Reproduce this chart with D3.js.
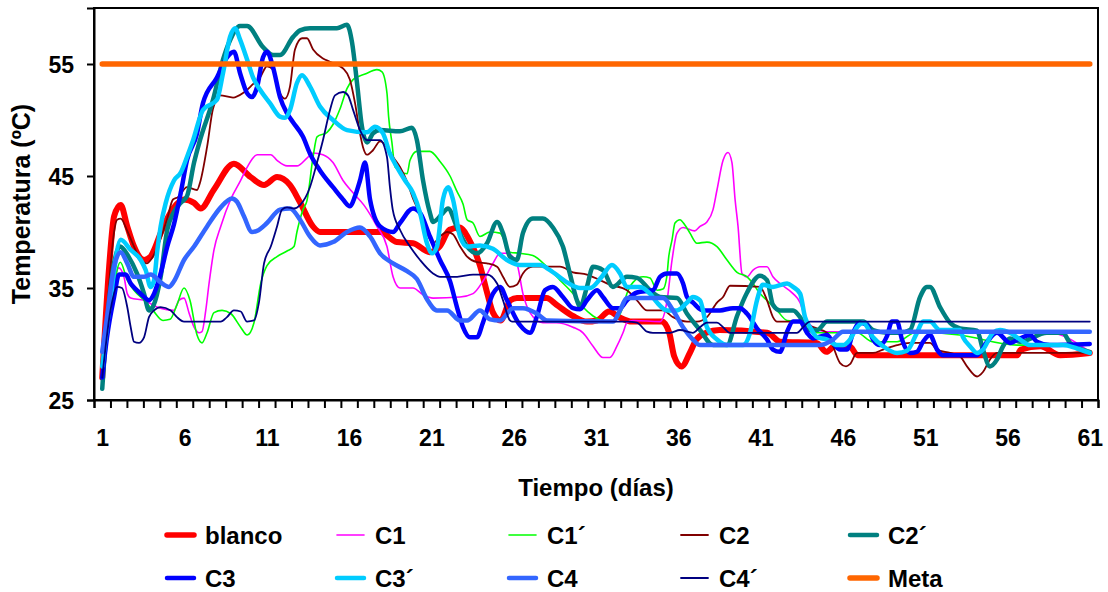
<!DOCTYPE html>
<html>
<head>
<meta charset="utf-8">
<script src="https://cdn.jsdelivr.net/npm/d3@7"></script>
<style>
  html, body { margin: 0; padding: 0; background: #fff; }
  svg { display: block; }
  text { font-family: "Liberation Sans", Arial, sans-serif; font-weight: bold; fill: #000; }
</style>
</head>
<body>
<svg id="chart" width="1108" height="592"></svg>
<script>
// ---------------- DATA (day, temperature ºC) ----------------
const seriesNames = ["blanco", "C1", "C1´", "C2", "C2´", "C3", "C3´", "C4", "C4´", "Meta"];
const yTickValues = [25, 35, 45, 55];
const xTickLabels = [1, 6, 11, 16, 21, 26, 31, 36, 41, 46, 51, 56, 61];
const dayCount = 61;

const blanco = [[1,27],[1.42,36.9],[1.72,41.4],[2.12,42.4],[2.52,40.5],[2.93,38.7],[3.54,37.5],[3.94,37.8],[4.15,38.4],[4.55,39.9],[5.36,42.2],[5.97,42.9],[6.58,42.6],[6.98,42.1],[7.79,43.8],[9.0,46.1],[10.02,44.9],[10.83,44.2],[11.62,44.9],[12.4,44.2],[13.0,42.7],[13.8,40.5],[14.23,40],[17.9,40],[18.9,39.1],[19.88,39],[20.9,38.2],[21.5,38.7],[22.1,40.2],[22.7,40.4],[23.3,39.3],[23.95,37],[24.4,34.5],[24.74,32.8],[25.2,32.1],[25.8,33.9],[26.2,34.1],[28.0,34.1],[28.6,33.5],[29.6,32.5],[30.45,32],[31.06,32.1],[31.8,32.9],[32.4,32.4],[33.2,32],[35.0,32],[35.45,31],[35.75,28.9],[36.2,28],[36.7,29.2],[37.1,30.4],[37.7,31],[38.5,31.25],[41.4,31],[42.2,30.2],[44.4,30.1],[45.0,29.3],[45.5,29.8],[46.4,29.8],[46.9,29],[56.6,29],[56.8,29.5],[58.0,29.8],[59.2,29],[61,29.2]];

const c1 = [[1,28],[1.5,33],[2.0,36.8],[2.32,36],[2.52,34.5],[2.73,34.1],[3.54,33.9],[4.33,33.3],[5.36,33],[5.66,33.9],[5.97,34.1],[6.27,32.8],[6.58,31.5],[6.88,31],[7.06,31.1],[7.29,33],[7.49,35.4],[7.79,38.4],[8.2,40.5],[8.8,42.9],[9.41,44.6],[9.81,45.8],[10.42,46.9],[11.24,46.9],[11.62,46.4],[12.23,45.9],[12.83,45.9],[13.44,46.6],[13.81,47.05],[14.41,46.9],[15.02,46.2],[15.63,44.6],[16.24,43.5],[16.9,42.4],[17.69,40.5],[18.3,38.7],[18.67,36],[19.09,35],[19.88,35],[20.49,34.4],[21.1,34.1],[22.74,34.2],[23.53,34.5],[24.13,35.6],[24.74,37.2],[25.17,38.1],[25.59,38.1],[26.19,37.2],[26.56,34.5],[26.99,32.8],[27.77,31.9],[28.6,31.9],[29.6,31.5],[30.21,31],[30.82,29.8],[31.42,28.8],[31.85,28.8],[32.27,29.8],[32.64,31],[32.88,31.9],[33.25,32.1],[34.89,32],[35.32,33.9],[35.62,37.5],[35.92,39.9],[36.29,40.4],[37.0,40.1],[37.32,40.5],[37.74,40.9],[38.11,42],[38.35,43.75],[38.72,46.4],[39.02,47.1],[39.26,46.2],[39.45,42.9],[39.63,40.5],[39.87,36.3],[40.18,36],[40.54,36.6],[40.96,36.9],[41.39,36.9],[41.75,36],[42.18,35.4],[42.97,34.5],[43.4,33.7],[43.7,32.4],[44.19,31.5],[45,31.1],[58.5,31],[61,29.3]];

const c1p = [[1,27.5],[1.5,33],[2.1,37.3],[2.52,35.7],[2.93,34.8],[3.54,33.9],[4.08,33],[4.69,32.1],[5.12,32.2],[5.54,33.5],[5.97,35],[6.33,33.9],[6.76,30.8],[7.06,30.1],[7.37,31],[7.79,32.8],[8.28,33],[8.82,32.7],[9.41,31.5],[9.81,30.8],[10.22,31.9],[10.63,35.4],[11.01,37],[11.62,37.8],[12.23,38.3],[12.65,38.7],[12.83,40],[13.2,42],[13.44,42.8],[13.81,46.7],[14.05,48.5],[14.66,48.9],[15.02,49.6],[15.45,51],[15.87,52.8],[16.24,53.6],[16.97,54.1],[17.69,54.5],[18.0,54.3],[18.3,52.4],[18.4,50.3],[18.6,48],[18.79,45.8],[19.52,45.2],[19.7,46.4],[20.12,47.2],[20.91,47.2],[21.52,46.3],[22.13,45],[22.56,43.6],[22.92,42.5],[23.17,41.1],[23.53,40.8],[23.95,39.6],[24.56,40],[25.17,39.9],[25.77,38.2],[26.37,38.1],[27.16,37.9],[28.02,36.9],[28.81,35.7],[29.6,34.5],[30.21,33.3],[30.82,32.5],[31.67,32],[32.03,32],[32.64,33.3],[32.88,34.5],[33.25,35.5],[33.86,36],[34.28,35.9],[34.71,34.8],[35.07,34.9],[35.3,36],[35.42,37.8],[35.62,39.3],[35.8,40.8],[36.1,41.1],[36.41,40.6],[36.71,39.9],[37.13,39],[37.74,39.1],[38.35,38.7],[38.96,37.5],[39.57,36.4],[40.18,36],[40.54,35.4],[40.96,34.5],[41.39,33.9],[42.0,33],[42.61,32.1],[43.4,32],[44.19,31],[46.86,31],[47.83,30.2],[49.29,30.2],[50.5,31.1],[53.1,30.8],[56.6,29.9],[61,29.9]];

const c2 = [[1,27],[1.3,33],[1.72,40],[1.9,41.1],[2.12,41.2],[2.52,40.1],[2.93,38.7],[3.29,37.6],[3.72,37.2],[4.08,37.8],[4.51,39.3],[4.93,41.1],[5.3,42.9],[5.6,43.1],[6.15,44],[6.76,43.75],[6.94,44.4],[7.37,47.6],[7.73,51],[8.16,52.2],[8.95,52],[9.55,52.4],[10.16,53.2],[10.59,53.8],[11.01,54.8],[11.38,54.5],[11.8,52.4],[12.1,51.9],[12.41,53],[12.71,56.3],[13.14,57.3],[13.44,57.3],[13.81,56.3],[14.41,55.5],[14.84,55.2],[15.63,54.6],[16.05,53.6],[16.36,51.5],[16.66,48.8],[16.84,47.6],[17.09,46.9],[17.45,47.3],[17.88,48.1],[18.3,47.6],[18.67,46.7],[19.09,45.8],[19.52,44.5],[19.88,43],[20.12,42.2],[20.73,39.9],[21.1,39],[21.52,39.6],[21.95,40],[22.31,39.8],[22.74,38.7],[23.17,37.8],[23.78,37.3],[24.38,37.2],[24.99,36.9],[25.35,36],[25.77,35.1],[26.19,35.3],[26.56,36.3],[27.16,36.9],[28.81,36.9],[29.6,36.4],[30.45,36.2],[31.24,35.7],[31.85,35.3],[32.88,34.8],[33.49,33.9],[34.1,33],[35.07,33],[35.68,32.4],[36.53,32],[37.13,32],[37.74,32.4],[38.35,33.7],[38.72,34.2],[39.14,35.2],[40.96,35.1],[41.39,33.9],[41.75,32.4],[42.0,32],[43.21,32],[44.19,31.5],[45.04,31],[45.4,29.8],[45.83,28.3],[46.19,28],[46.43,28.2],[46.86,29.2],[47.83,29.2],[48.44,29.5],[49.29,29.9],[50.08,30.1],[51.29,30.1],[51.72,29.5],[52.51,29.2],[53.11,28.9],[53.54,28],[54.15,27.1],[54.51,27.5],[54.93,28.6],[55.36,29.2],[61,29.2]];

const c2p = [[1,26],[1.3,32],[2.08,38.7],[2.6,37.8],[3.11,36.3],[3.54,34.5],[3.84,33],[4.1,33.4],[4.55,36],[4.95,40.2],[5.36,41.8],[5.77,42.6],[6.15,43.2],[6.58,46.2],[6.94,48.2],[7.73,51.8],[8.34,55.4],[8.76,57.1],[9.37,58.4],[9.8,58.4],[10.77,56.5],[11.38,55.8],[11.8,55.8],[12.59,57.4],[13.02,58],[13.62,58.2],[15.26,58.2],[15.87,58.5],[16.18,56.9],[16.48,53.3],[16.78,49.4],[17.09,48],[17.45,48.8],[17.88,49.1],[19.09,49],[19.82,49.3],[20.12,48.2],[20.49,44.6],[20.91,41.7],[21.1,40.9],[21.7,41.7],[22.01,42.1],[22.56,40.4],[23.17,38.7],[23.78,38.1],[24.38,39],[24.99,40.9],[25.35,39.9],[25.77,37.8],[26.19,37.5],[26.56,39.9],[27.16,41.2],[27.77,41.2],[28.38,40.4],[28.99,38.7],[29.41,36.3],[29.84,33.9],[30.03,33.3],[30.45,35.1],[30.82,36.9],[31.42,36.6],[32.03,35.1],[32.88,36],[33.49,35.9],[34.28,34.8],[34.89,34.2],[35.92,34.1],[36.53,32.7],[37.32,31.25],[38.11,29.9],[38.96,29.9],[39.57,32.5],[40.18,34.6],[40.96,36.1],[41.39,35.7],[41.75,33.5],[42.18,33],[42.97,33],[43.4,32.4],[43.82,31.25],[44.43,31.25],[45.04,32],[47.23,32],[47.83,31.25],[48.68,31],[49.47,31],[50.08,31.25],[50.69,34.2],[51.11,35.1],[51.29,35.1],[51.9,33.3],[52.51,31.9],[53.11,31.4],[54.15,31.2],[54.51,29.5],[54.93,28],[55.36,28.6],[55.73,29.8],[56.15,30.5],[56.76,30.2],[58.4,31],[59.37,31],[59.8,30.1],[61,29.3]];

const c3 = [[1,27],[1.29,30.6],[1.72,34.2],[2.02,36.2],[2.43,36.2],[2.73,35.4],[3.11,34.8],[3.54,34.2],[3.84,33.9],[4.15,34.5],[4.55,36.3],[4.95,38.7],[5.36,40.7],[5.77,43.5],[6.15,46.4],[6.76,48.8],[7.12,51.5],[7.97,53.8],[8.58,55.6],[9.0,56.1],[9.37,54.2],[9.8,52.4],[10.1,52.05],[10.4,52.9],[10.77,55.6],[11.01,56.1],[11.38,54.7],[11.8,52.05],[12.23,50.6],[12.59,49.8],[13.2,48.5],[13.62,47],[14.23,45.5],[15.02,44],[15.63,42.9],[16.05,42.3],[16.36,43.2],[16.66,44.6],[16.97,46.2],[17.27,42.9],[17.88,40.5],[18.67,40],[19.09,40.8],[19.88,42.1],[20.31,41.7],[20.91,39.6],[21.52,37.5],[22.13,35.6],[22.55,33.3],[22.92,31.5],[23.34,30.6],[23.77,30.6],[24.13,31.9],[24.74,34.5],[25.17,35.1],[25.59,33.9],[26.37,31.7],[26.99,31],[27.42,32.5],[27.9,34.8],[28.38,35.1],[28.99,34.2],[29.6,33.2],[30.03,33.1],[30.45,33.9],[31.06,34.8],[31.42,34.2],[32.03,33.2],[32.46,33.2],[32.88,33.9],[33.49,34.6],[34.46,34.8],[34.89,36],[35.32,36.3],[35.92,36.3],[36.29,35.4],[36.53,34.2],[36.89,33.7],[37.5,33],[38.53,33],[39.32,33.2],[39.75,33.2],[40.18,32.7],[40.78,31.4],[41.39,30.4],[41.75,29.5],[42.18,29.3],[42.61,31.1],[42.97,32],[43.4,32],[43.82,31],[44.19,30.5],[45.04,30.8],[45.4,30.1],[45.83,29.5],[46.25,29.5],[46.62,31],[47.04,31.9],[47.46,31.7],[47.83,30.4],[48.26,29.9],[48.68,30.7],[48.98,32],[49.29,32],[49.59,30.4],[50.08,29.2],[50.5,29.3],[50.87,30.2],[51.29,30.8],[51.72,29.5],[52.08,29],[54.15,29],[54.76,30.2],[55.36,31],[56.15,30.1],[56.76,30.5],[57.37,30.8],[57.79,30.2],[58.58,29.9],[61,30]];

const c3p = [[1,28],[1.5,34],[2.12,39.3],[2.73,38.4],[3.34,37.5],[3.64,36.6],[3.94,35.1],[4.15,35.7],[4.35,38.4],[4.55,40.5],[4.86,42.6],[5.36,44.6],[5.77,45.3],[6.15,46.7],[6.52,48.2],[7.12,50.9],[7.97,51.8],[8.34,54.2],[8.76,57.4],[9.07,58.2],[9.37,57.2],[9.8,55.4],[10.16,53.8],[10.59,52.7],[11.19,51.5],[11.8,50.3],[12.1,50.2],[12.41,50.9],[12.83,53.3],[13.14,54],[13.62,53],[14.23,51.2],[15.02,50],[15.87,49.1],[17.09,48.9],[17.57,49.4],[18.06,48.8],[18.48,47],[18.91,45.8],[19.4,44.6],[19.88,43.5],[20.31,41.7],[20.73,39],[21.04,38.1],[21.34,38.7],[21.7,42.9],[22.01,44],[22.31,42.9],[22.74,39.6],[23.17,38.7],[23.95,38.8],[24.74,38.5],[25.59,37.5],[26.37,37.05],[27.6,37.05],[28.2,36.6],[29.24,35.5],[30.03,35],[30.64,35],[31.3,35.9],[31.97,37.05],[32.46,36.3],[32.88,35.1],[33.67,35.1],[34.28,34.5],[34.71,33.7],[35.32,33],[35.92,33],[36.53,33.7],[36.89,34.2],[37.32,33.9],[37.74,31.5],[38.35,30.4],[38.96,29.9],[39.93,29.9],[40.36,31],[40.78,33.9],[41.14,35.3],[41.75,35.1],[42.61,35.4],[42.97,35.1],[43.4,34.5],[43.7,32.4],[44.0,31.5],[44.43,30.6],[45.04,30.4],[45.64,29.9],[46.0,29.9],[46.43,30.4],[46.86,31.5],[47.23,31.9],[47.83,30.6],[48.44,29.8],[49.29,29.2],[49.9,29.4],[50.5,31],[50.87,32],[51.29,32],[51.9,31.25],[53.11,31.25],[53.3,30.6],[53.72,29.8],[54.15,29.2],[54.51,29.5],[55.12,31],[55.55,31.25],[56.15,31],[56.76,30.4],[57.37,29.9],[59.37,29.9],[60.22,29.6],[61,29.2]];

const c4 = [[1,29.3],[1.29,32.4],[1.72,36.9],[2.12,38.2],[2.52,37.2],[2.93,36],[3.54,36],[3.94,36.2],[4.55,35.5],[5.06,35.1],[5.36,35.6],[5.97,37.5],[6.58,38.7],[7.37,40.5],[8.2,42.2],[8.88,43],[9.19,42.7],[9.61,41.4],[10.1,40],[10.4,40.1],[11.01,40.8],[11.8,42],[12.41,42.1],[13.02,41.1],[13.62,39.6],[14.23,38.8],[15.02,39.1],[15.87,40],[16.66,40.4],[17.27,39.6],[17.88,38.1],[18.67,37.2],[19.52,36.5],[20.12,35.8],[20.73,34],[21.34,33],[21.95,33],[22.74,32.1],[23.17,32.1],[23.95,33],[24.56,32.2],[25.17,32.1],[25.96,33.2],[26.56,33.2],[27.42,32.7],[28.02,32.1],[32.03,32],[32.46,33],[32.88,34.1],[35.07,34.1],[35.68,33],[36.29,31.5],[36.89,30.4],[37.32,29.9],[44.6,29.9],[45.4,30.4],[46.0,31.1],[61,31.1]];

const c4p = [[1,27],[1.5,33],[1.9,35.1],[2.2,35],[2.52,33.3],[2.73,31.5],[2.93,30.2],[3.23,30.1],[3.54,30.6],[3.84,32.4],[4.15,33],[4.55,33.3],[5.16,33],[5.54,32.4],[5.97,32],[8.2,32],[8.58,32.4],[9.0,33],[9.41,32.9],[9.8,32],[10.22,32.1],[10.52,33.7],[10.83,37.2],[11.24,38.7],[11.62,40.5],[11.92,42],[12.23,42.2],[12.65,42.1],[13.02,42.4],[13.62,44],[14.05,46.2],[14.41,48.2],[14.84,50.9],[15.14,52.2],[15.63,52.5],[15.93,52.2],[16.24,50.9],[16.66,49.1],[17.09,48.2],[17.88,48.2],[18.3,46.7],[18.48,44],[18.65,42],[19.09,40.2],[19.7,38.7],[20.31,37.5],[21.1,36.3],[21.52,36],[22.56,36],[23.53,36.2],[24.38,36.2],[24.99,35.4],[25.35,33.9],[25.77,32.1],[25.9,32],[32.88,32],[33.49,31.9],[34.1,31.1],[34.46,31],[35.5,31],[36.1,31.25],[36.89,31],[37.32,31.5],[37.74,31.9],[38.35,31.9],[38.72,31.5],[39.14,31],[43.21,31],[43.58,31.5],[44.0,32],[61,32]];

const meta = [[1,55],[61,55]];

// ---------------- STYLES ----------------
const seriesData = [blanco, c1, c1p, c2, c2p, c3, c3p, c4, c4p, meta];
const seriesColors = ["#FF0000", "#FF00FF", "#00FF00", "#800000", "#008080", "#0000FF", "#00CCFF", "#3366FF", "#000080", "#FF6600"];
const seriesWidths = [6, 1.6, 1.6, 1.8, 4.5, 4.5, 4.5, 4.5, 1.8, 5.5];

// ---------------- LAYOUT ----------------
const plot = { left: 94, right: 1098, top: 8, bottom: 400 };
const svg = d3.select("#chart");

const x = d3.scaleLinear().domain([0.5, dayCount + 0.5]).range([plot.left, plot.right]);
const y = d3.scaleLinear().domain([25, 60]).range([plot.bottom, plot.top]);

// Lines
const line = d3.line()
  .x(d => x(d[0]))
  .y(d => y(d[1]))
  .curve(d3.curveMonotoneX);

const gLines = svg.append("g");
seriesData.forEach((data, i) => {
  gLines.append("path")
    .attr("d", line(data))
    .attr("fill", "none")
    .attr("stroke", seriesColors[i])
    .attr("stroke-width", seriesWidths[i])
    .attr("stroke-linejoin", "round")
    .attr("stroke-linecap", "round");
});

// Frame
svg.append("rect")
  .attr("x", plot.left).attr("y", plot.top)
  .attr("width", plot.right - plot.left).attr("height", plot.bottom - plot.top)
  .attr("fill", "none").attr("stroke", "#000").attr("stroke-width", 2);

// Y axis
const yAxis = d3.axisLeft(y).tickValues(yTickValues).tickSize(7).tickPadding(13);
const gy = svg.append("g").attr("transform", `translate(${plot.left},0)`).call(yAxis);
gy.select(".domain").attr("stroke-width", 2);
gy.selectAll(".tick line").attr("stroke-width", 2);
gy.selectAll(".tick text")
  .style("font-family", '"Liberation Sans", Arial, sans-serif')
  .style("font-weight", "bold").style("font-size", "23px").attr("dy", "0.36em");

// X axis: ticks between days, labels every 5 days
const xAxisTicks = d3.axisBottom(x).tickValues(d3.range(0.5, dayCount + 1, 1)).tickSize(8).tickFormat("");
const gx = svg.append("g").attr("transform", `translate(0,${plot.bottom})`).call(xAxisTicks);
gx.select(".domain").attr("stroke-width", 2);
gx.selectAll(".tick line").attr("stroke-width", 2);

const xLabelAxis = d3.axisBottom(x).tickValues(xTickLabels).tickSize(0).tickPadding(46).tickFormat(d3.format("d"));
const gxl = svg.append("g").attr("transform", `translate(0,${plot.bottom})`).call(xLabelAxis);
gxl.select(".domain").remove();
gxl.selectAll(".tick text")
  .style("font-family", '"Liberation Sans", Arial, sans-serif')
  .style("font-weight", "bold").style("font-size", "23px").attr("dy", "0");

// Axis titles
svg.append("text")
  .attr("x", (plot.left + plot.right) / 2).attr("y", 496)
  .attr("text-anchor", "middle")
  .style("font-size", "24px")
  .text("Tiempo (días)");

svg.append("text")
  .attr("transform", `translate(30,${(plot.top + plot.bottom) / 2}) rotate(-90)`)
  .attr("text-anchor", "middle")
  .style("font-size", "25px")
  .text("Temperatura (ºC)");

// Legend
const legendCols = [205, 375, 547, 719, 888];
const legendRows = [535, 578];
const legend = svg.append("g");
seriesNames.forEach((name, i) => {
  const col = i % 5, row = Math.floor(i / 5);
  const tx = legendCols[col], ty = legendRows[row];
  legend.append("line")
    .attr("x1", tx - 38).attr("x2", tx - 11)
    .attr("y1", ty).attr("y2", ty)
    .attr("stroke", seriesColors[i])
    .attr("stroke-width", Math.min(seriesWidths[i], 5.5))
    .attr("stroke-linecap", "round");
  legend.append("text")
    .attr("x", tx).attr("y", ty).attr("dy", "0.36em")
    .style("font-size", "24px")
    .text(name);
});
</script>
</body>
</html>
